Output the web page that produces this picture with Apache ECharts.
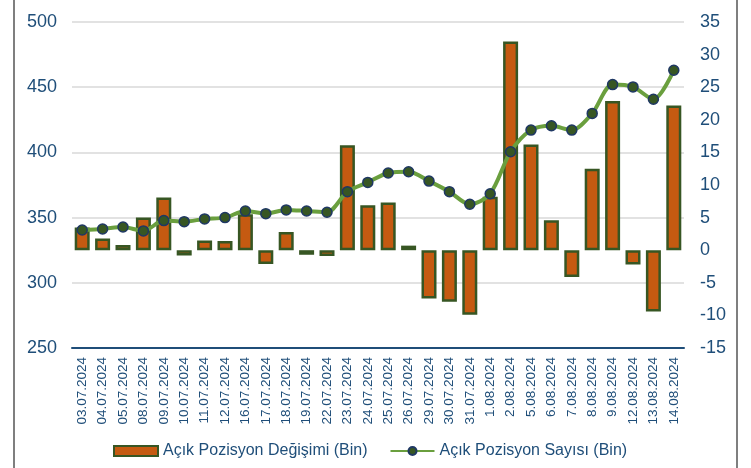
<!DOCTYPE html>
<html>
<head>
<meta charset="utf-8">
<script src="https://cdn.jsdelivr.net/npm/echarts@6/dist/echarts.min.js"></script>
<style>
  html, body { margin: 0; padding: 0; background: #fff; }
  #main { width: 751px; height: 468px; }
</style>
</head>
<body>
<div id="main"></div>
<script>
// tarihler
const dates = ['03.07.2024', '04.07.2024', '05.07.2024', '08.07.2024', '09.07.2024', '10.07.2024',
  '11.07.2024', '12.07.2024', '16.07.2024', '17.07.2024', '18.07.2024', '19.07.2024', '22.07.2024',
  '23.07.2024', '24.07.2024', '25.07.2024', '26.07.2024', '29.07.2024', '30.07.2024', '31.07.2024',
  '1.08.2024', '2.08.2024', '5.08.2024', '6.08.2024', '7.08.2024', '8.08.2024', '9.08.2024',
  '12.08.2024', '13.08.2024', '14.08.2024']

// Açık Pozisyon Değişimi (Bin) - sağ eksen
const degisim = [3.5, 1.8, 0.8, 5.0, 8.1, -0.8, 1.5, 1.4, 5.5, -2.1, 2.8, -0.7, -0.9,
  16.1, 6.9, 7.3, 0.7, -7.4, -7.9, -9.9, 8.2, 32.0, 16.2, 4.6, -4.1, 12.5, 22.9,
  -2.2, -9.4, 22.2]

// Açık Pozisyon Sayısı (Bin) - sol eksen
const sayi = [340.5, 341.3, 342.8, 339.8, 347.7, 346.9, 349.0, 350.0, 355.1, 353.0, 355.9,
  355.1, 354.1, 369.9, 377.0, 384.2, 385.2, 378.0, 369.9, 360.2, 368.3, 400.5, 417.1,
  420.4, 417.1, 429.9, 452.0, 450.2, 440.8, 463.0]

const txtColor = '#1F4E79'
const font = 'Liberation Sans, Arial, sans-serif'

const myChart = echarts.init(document.getElementById('main'))
const option = {
  animation: false,
  textStyle: { fontFamily: font },
  grid: {
    left: 72,
    right: 67,
    top: 22,
    bottom: 120
  },
  legend: {
    left: 108,
    bottom: 4,
    itemWidth: 44,
    itemHeight: 10,
    itemGap: 22,
    textStyle: { color: txtColor, fontSize: 16, fontFamily: font },
    data: [
      { name: 'Açık Pozisyon Değişimi (Bin)', icon: 'rect' },
      { name: 'Açık Pozisyon Sayısı (Bin)' }
    ]
  },
  xAxis: {
    type: 'category',
    data: dates,
    // eksen çizgisi altta kalsın
    axisLine: { onZero: false, lineStyle: { color: '#1F4E79', width: 2 } },
    axisTick: { show: false },
    axisLabel: {
      rotate: 90,
      interval: 0,
      margin: 9,
      color: txtColor,
      fontSize: 13.5,
      fontFamily: font
    }
  },
  yAxis: [
    {
      type: 'value',
      min: 250,
      max: 500,
      interval: 50,
      axisLine: { show: false },
      axisTick: { show: false },
      axisLabel: { color: txtColor, fontSize: 18, margin: 15, fontFamily: font },
      splitLine: { lineStyle: { color: '#d9d9d9', width: 1.5 } }
    },
    {
      type: 'value',
      min: -15,
      max: 35,
      interval: 5,
      axisLine: { show: false },
      axisTick: { show: false },
      axisLabel: { color: txtColor, fontSize: 18, margin: 16, fontFamily: font },
      splitLine: { show: false }
    }
  ],
  series: [
    {
      name: 'Açık Pozisyon Değişimi (Bin)',
      type: 'bar',
      yAxisIndex: 1,
      barWidth: 15,
      itemStyle: {
        color: '#C55A11',
        borderColor: '#375623',
        borderWidth: 2.5
      },
      data: degisim
    },
    {
      name: 'Açık Pozisyon Sayısı (Bin)',
      type: 'line',
      yAxisIndex: 0,
      smooth: 0.3,
      symbol: 'circle',
      symbolSize: 10,
      lineStyle: { color: '#6A9F3E', width: 4 },
      itemStyle: {
        color: '#375623',
        borderColor: '#1F3864',
        borderWidth: 1.5
      },
      data: sayi
    }
  ],
  // çerçeve çizgileri
  graphic: [
    { type: 'rect', shape: { x: 13, y: 0, width: 2, height: 468 }, style: { fill: '#7f7f7f' } },
    { type: 'rect', shape: { x: 736, y: 0, width: 2, height: 468 }, style: { fill: '#7f7f7f' } }
  ]
}
option && myChart.setOption(option)
</script>
</body>
</html>
